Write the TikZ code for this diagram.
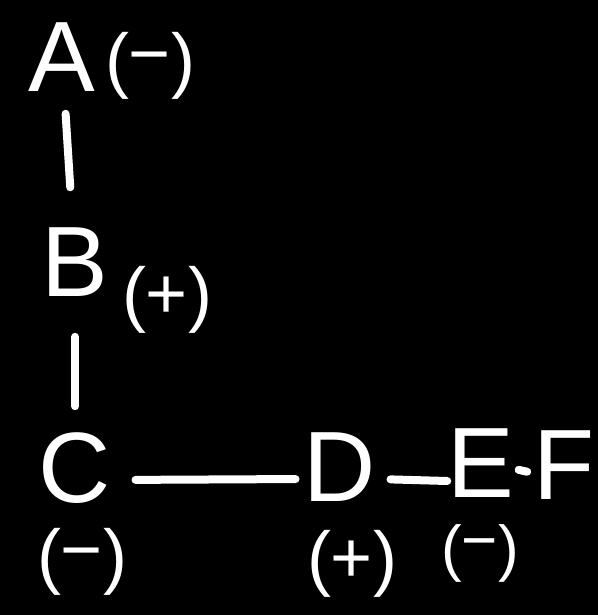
\documentclass[tikz,border=0pt]{standalone}
\usepackage{fontspec}
\setmainfont{Liberation Sans}
\usetikzlibrary{positioning}

\begin{document}
\begin{tikzpicture}[
          x=0.5pt, y=-0.5pt,
          atom/.style={text=white, inner sep=0pt, font=\fontsize{50}{60}\selectfont},
          sign/.style={text=white, inner sep=0pt, font=\fontsize{36}{42}\selectfont},
          bond/.style={draw=white, line width=4pt, line cap=round}
      ]
        \fill[black] (0,0) rectangle (598,615);
        \useasboundingbox (0,0) rectangle (598,615);
        \node[atom] (A) at (62,57) {A};
        \node[sign] (sa) at (150,66) {(\raisebox{3pt}{−})};
        \node[atom] (B) at (75,262) {B};
        \node[sign] (sb) at (167,300) {(+)};
        \node[atom] (C) at (75,468) {C};
        \node[sign] (sc) at (82,562) {(\raisebox{3pt}{−})};
        \node[atom] (D) at (340,467) {D};
        \node[sign] (sd) at (352,564) {(+)};
        \node[atom] (E) at (481,463) {E};
        \node[sign, font=\fontsize{31}{36}\selectfont] (se) at (480,553) {(\raisebox{4pt}{−})};
        \node[atom] (F) at (564,465) {F};
        \draw[bond, shorten <=11pt, shorten >=20pt] (A) -- (B);
        \draw[bond, shorten <=20pt, shorten >=13pt] (B) -- (C);
        \draw[bond, shorten <=12pt, shorten >=4pt] ([yshift=-6pt]C.east) -- ([yshift=-6pt]D.west);
        \draw[bond, shorten <=7pt, shorten >=0pt] ([yshift=-6pt]D.east) -- ([yshift=-9pt]E.west);
        \draw[bond, shorten <=2pt, shorten >=3pt] ([yshift=-3pt]E.east) -- ([yshift=-4pt]F.west);
      \end{tikzpicture}
\end{document}
